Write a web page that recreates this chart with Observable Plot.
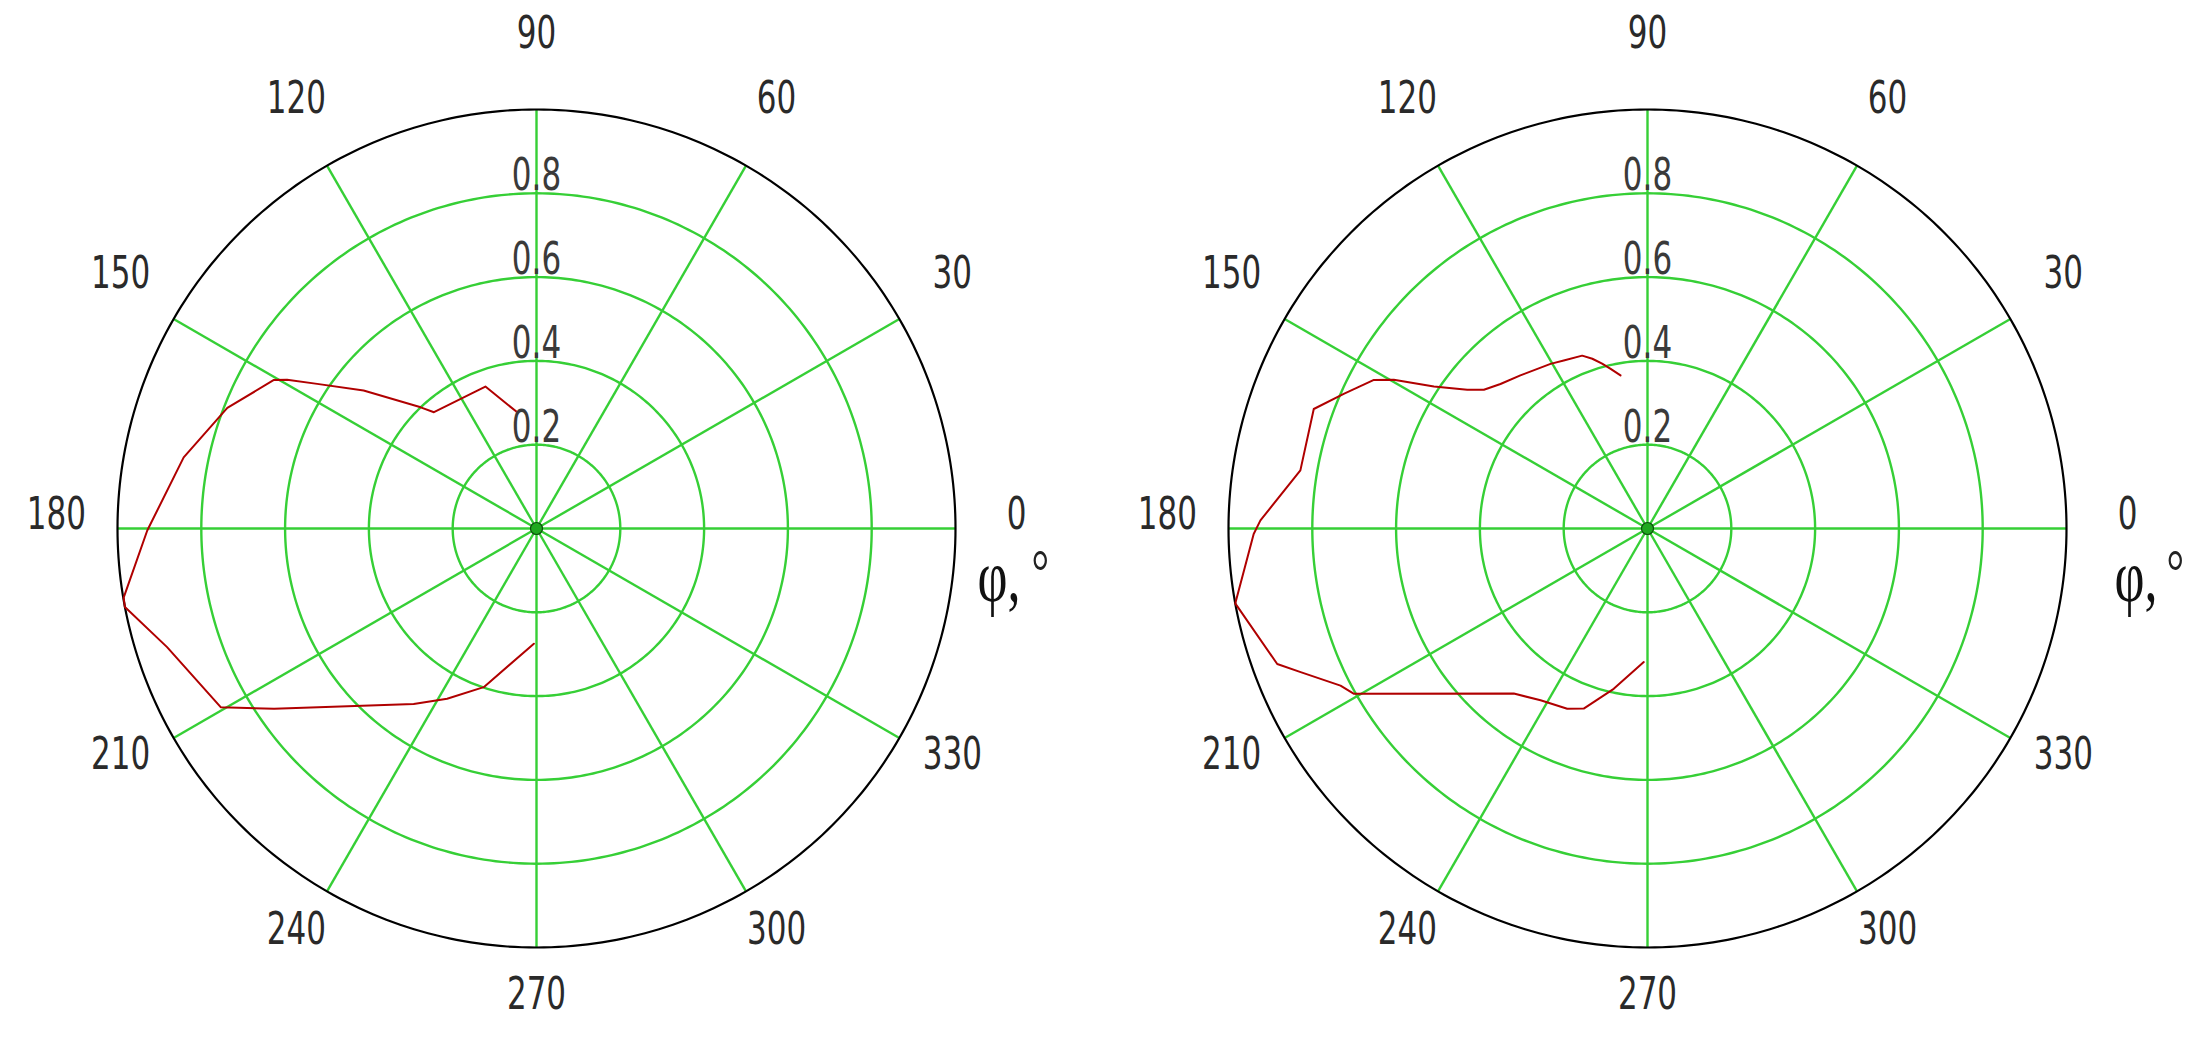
<!DOCTYPE html>
<html><head><meta charset="utf-8">
<script src="https://cdn.jsdelivr.net/npm/d3@7"></script>
<script src="https://cdn.jsdelivr.net/npm/@observablehq/plot@0.6"></script>
<style>
html,body{margin:0;padding:0;background:#fff;}
#wrap{display:flex;width:2199px;height:1047px;overflow:hidden;background:#fff;}
#wrap svg{display:block;overflow:visible;background:#fff;}
</style></head><body><div id="wrap"></div>
<script>
// ---- data ----
const angleTicks = [0, 30, 60, 90, 120, 150, 180, 210, 240, 270, 300, 330];
const ringTicks = [0.2, 0.4, 0.6, 0.8];
const ringLabels = ["0.2", "0.4", "0.6", "0.8"];
const axisLabel = "φ,";
const degreeMark = "°";

// left diagram: angle (deg) and radius
const leftAngle = [99.4, 109.8, 131.4, 133.7, 141.4, 146.6, 149.2, 150.5, 158.7, 168.6, 180.3, 189.5, 190.8, 197.8, 209.5, 214.5, 235.0, 242.3, 251.6, 268.7];
const leftR     = [0.281, 0.360, 0.370, 0.400, 0.528, 0.627, 0.693, 0.720, 0.792, 0.859, 0.929, 0.999, 1.0, 0.926, 0.866, 0.760, 0.511, 0.459, 0.399, 0.275];

// right diagram: angle (deg) and radius
const rightAngle = [100.0, 103.0, 105.4, 108.0, 110.7, 116.5, 120.5, 129.7, 135.5, 139.7, 142.4, 146.4, 149.6, 151.5, 156.1, 160.3, 170.5, 178.8, 180.8, 190.3, 200.1, 202.5, 207.1, 209.4, 231.0, 238.1, 246.0, 250.5, 258.1, 268.4];
const rightR     = [0.371, 0.391, 0.408, 0.426, 0.441, 0.448, 0.456, 0.475, 0.492, 0.512, 0.543, 0.612, 0.702, 0.743, 0.793, 0.846, 0.840, 0.924, 0.940, 1.0, 0.941, 0.896, 0.823, 0.804, 0.507, 0.483, 0.471, 0.456, 0.391, 0.319];

// ---- helpers ----
const rad = d => d * Math.PI / 180;
const toXY = (angles, radii) => angles.map((a, i) => ({a, r: radii[i], x: radii[i] * Math.cos(rad(a)), y: radii[i] * Math.sin(rad(a))}));
const circle = (v) => d3.range(0, 361, 1).map(a => ({ring: v, x: v * Math.cos(rad(a)), y: v * Math.sin(rad(a))}));

const GREEN = "#36cf36";
const RED = "#b00000";
const FONT = "DejaVu Sans";
const SCALE_Y = 1.42;
const LABEL_R = 1.146;

function polar({angles, radii, width, center, phiDx, degDx}) {
  const R = 419;
  const curve = toXY(angles, radii);
  const rings = ringTicks.flatMap(circle);
  const outer = circle(1);
  const ringLab = ringTicks.map((v, i) => ({v, t: ringLabels[i]}));
  const svg = Plot.plot({
    width, height: 1047,
    marginLeft: center - R,
    marginRight: width - center - R,
    marginTop: 528 - R,
    marginBottom: 1047 - 528 - R,
    x: {domain: [-1, 1], axis: null},
    y: {domain: [-1, 1], axis: null},
    style: {background: "#fff"},
    marks: [
      Plot.line(rings, {x: "x", y: "y", z: "ring", stroke: GREEN, strokeWidth: 2.4}),
      Plot.link(angleTicks, {x1: () => 0, y1: () => 0, x2: d => Math.cos(rad(d)), y2: d => Math.sin(rad(d)), stroke: GREEN, strokeWidth: 2.4}),
      Plot.line(outer, {x: "x", y: "y", stroke: "#000", strokeWidth: 2.2}),
      Plot.line(curve, {x: "x", y: "y", stroke: RED, strokeWidth: 2}),
      Plot.text(ringLab, {x: () => 0, y: d => d.v, text: "t", fill: "#3a3a3a", fontFamily: FONT, fontSize: 31, dy: -3}),
      Plot.dot([0], {x: () => 0, y: () => 0, r: 6, fill: "#1fa81f", stroke: "#0b4d0b", strokeWidth: 1.2}),
      Plot.text(angleTicks, {x: d => LABEL_R * Math.cos(rad(d)), y: d => LABEL_R * Math.sin(rad(d)), text: d => String(d), fill: "#2a2a2a", fontFamily: FONT, fontSize: 31}),
      Plot.text([axisLabel], {frameAnchor: "right", text: d => d, textAnchor: "start", dx: phiDx, dy: 72, fill: "#111", fontFamily: "Liberation Serif", fontSize: 52}),
      Plot.text([degreeMark], {frameAnchor: "right", text: d => d, textAnchor: "start", dx: degDx, dy: 64, fill: "#222", fontFamily: "Liberation Serif", fontSize: 44})
    ]
  });
  // stretch the text vertically, as in the reference
  d3.select(svg).selectAll("text").each(function() {
    const t = this;
    const tr = t.getAttribute("transform") || "";
    const x = t.getAttribute("x"), y = t.getAttribute("y");
    if (x !== null || y !== null) {
      t.removeAttribute("x"); t.removeAttribute("y");
      t.setAttribute("transform", `${tr} translate(${+x || 0},${+y || 0}) scale(1,${SCALE_Y})`);
    } else {
      t.setAttribute("transform", `${tr} scale(1,${SCALE_Y})`);
    }
  });
  return svg;
}

const wrap = document.getElementById("wrap");
wrap.appendChild(polar({angles: leftAngle, radii: leftR, width: 1100, center: 536, phiDx: 22, degDx: 76}));
wrap.appendChild(polar({angles: rightAngle, radii: rightR, width: 1099, center: 547, phiDx: 48, degDx: 100}));
</script>
</body></html>
